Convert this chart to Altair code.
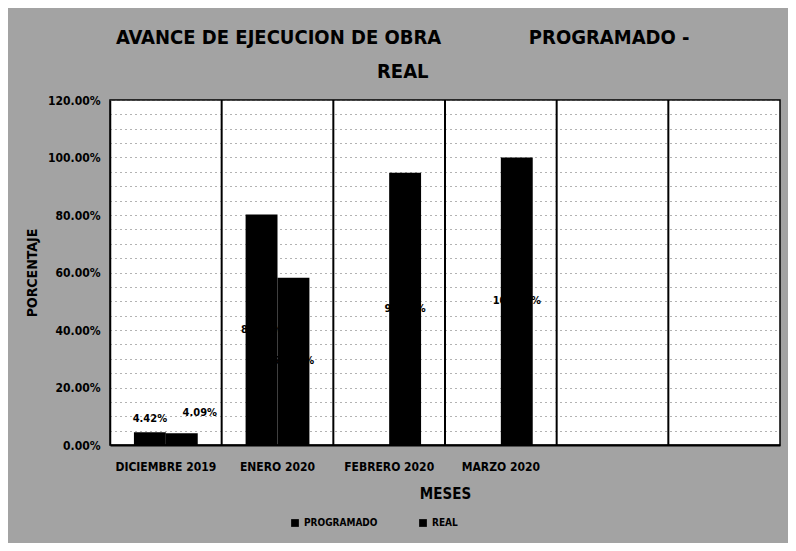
import altair as alt
import pandas as pd

# ---- data ----
categories = ["DICIEMBRE 2019", "ENERO 2020", "FEBRERO 2020", "MARZO 2020", " ", "  "]
programado = [4.42, 80.2, None, None, None, None]
real = [4.09, 58.2, 94.7, 100.0, None, None]
series_names = ["PROGRAMADO", "REAL"]
y_ticks = list(range(0, 121, 5))

rows = []
for c, p, r in zip(categories, programado, real):
    if p is not None:
        rows.append({"mes": c, "serie": "PROGRAMADO", "valor": p})
    if r is not None:
        rows.append({"mes": c, "serie": "REAL", "valor": r})
df = pd.DataFrame(rows)
sep_df = pd.DataFrame({"mes": categories[1:]})

FONT = "Liberation Sans Narrow, DejaVu Sans Condensed, Arial Narrow, Liberation Sans, sans-serif"

x_scale = alt.Scale(domain=categories, paddingInner=0, paddingOuter=0)
y_scale = alt.Scale(domain=[0, 120], nice=False)
off_scale = alt.Scale(domain=series_names, paddingOuter=0.75, paddingInner=0)

x_axis = alt.Axis(
    title="MESES", labelAngle=0, ticks=False, grid=False,
    domainColor="black", domainWidth=2,
    labelFont=FONT, labelFontWeight="bold", labelFontSize=12, labelColor="black",
    labelPadding=16, titleFont=FONT, titleFontWeight="bold", titleFontSize=15,
    titleColor="black", titlePadding=14,
)
y_axis = alt.Axis(
    title="PORCENTAJE", values=y_ticks,
    labelExpr="datum.value % 20 == 0 ? format(datum.value, '.2f') + '%' : ''",
    ticks=False, grid=True, gridColor="#666666", gridDash=[1, 4], gridWidth=1,
    domainColor="black", domainWidth=1.5,
    labelFont=FONT, labelFontWeight="bold", labelFontSize=12, labelColor="black",
    labelPadding=10, titleFont=FONT, titleFontWeight="bold", titleFontSize=14,
    titleColor="black", titlePadding=8,
)

seps = alt.Chart(sep_df).mark_rule(color="black", strokeWidth=2).encode(
    x=alt.X("mes:N", scale=x_scale, sort=categories, bandPosition=0, axis=x_axis)
)

bars = alt.Chart(df).mark_bar().encode(
    x=alt.X("mes:N", scale=x_scale, sort=categories, axis=x_axis),
    xOffset=alt.XOffset("serie:N", scale=off_scale),
    y=alt.Y("valor:Q", scale=y_scale, axis=y_axis),
    color=alt.Color(
        "serie:N",
        scale=alt.Scale(domain=series_names, range=["#000000", "#000000"]),
        legend=alt.Legend(
            title=None, orient="none", direction="horizontal",
            legendX=180, legendY=418, symbolType="square", symbolSize=60,
            labelFont=FONT, labelFontSize=10, labelFontWeight="bold",
            labelColor="black", columnPadding=40,
        ),
    ),
)

base_lbl = alt.Chart(df).transform_calculate(
    txt="format(datum.valor, '.2f') + '%'",
)


def label_layer(filter_expr, y_expr, dx=0, dy=0):
    return base_lbl.transform_filter(filter_expr).transform_calculate(
        ly=y_expr
    ).mark_text(
        font=FONT, fontWeight="bold", fontSize=11, color="black", dx=dx, dy=dy
    ).encode(
        x=alt.X("mes:N", scale=x_scale, sort=categories, axis=x_axis),
        xOffset=alt.XOffset("serie:N", scale=off_scale),
        y=alt.Y("ly:Q", scale=y_scale, axis=y_axis),
        text="txt:N",
    )


labels_big = label_layer("datum.valor >= 15", "datum.valor / 2")
labels_small_p = label_layer("datum.valor < 15 && datum.serie == 'PROGRAMADO'", "datum.valor", dy=-13)
labels_small_r = label_layer("datum.valor < 15 && datum.serie == 'REAL'", "datum.valor", dx=18, dy=-20)

NB = "\u00a0"
title_line1 = "AVANCE DE EJECUCION DE OBRA" + NB * 14 + "PROGRAMADO -"

chart = alt.layer(seps, bars, labels_big, labels_small_p, labels_small_r).properties(
    width=670,
    height=345,
    autosize="none",
    padding={"left": 102, "top": 92, "right": 8, "bottom": 98},
    background="#a3a3a3",
    title=alt.Title(
        text=[title_line1, "REAL"], font=FONT, fontSize=20, fontWeight="bold",
        color="black", anchor="middle", frame="bounds", lineHeight=34, offset=12,
    ),
).configure_view(stroke="black", strokeWidth=1.5, fill="white")

chart.save("out.html", embed_options={"renderer": "svg", "actions": False})
